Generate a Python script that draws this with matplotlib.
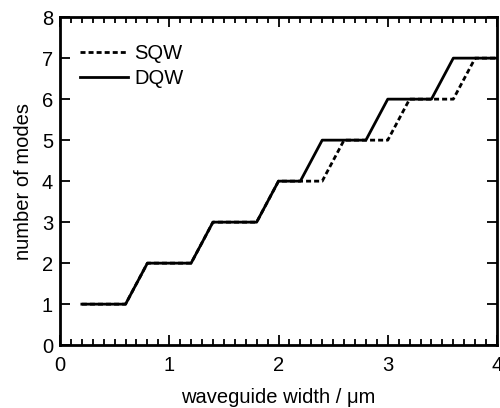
import matplotlib
matplotlib.use("Agg")
import matplotlib.pyplot as plt
from matplotlib.ticker import MultipleLocator

plt.rcParams['font.family'] = ['Liberation Sans', 'DejaVu Sans']

# Mode-count staircases (corner points of each curve)
sqw_width = [0.2, 0.6, 0.8, 1.2, 1.4, 1.8, 2.0, 2.4, 2.6, 3.0, 3.2, 3.6, 3.8, 4.0]
sqw_modes = [1, 1, 2, 2, 3, 3, 4, 4, 5, 5, 6, 6, 7, 7]
dqw_width = [0.2, 0.6, 0.8, 1.2, 1.4, 1.8, 2.0, 2.2, 2.4, 2.8, 3.0, 3.4, 3.6, 4.0]
dqw_modes = [1, 1, 2, 2, 3, 3, 4, 4, 5, 5, 6, 6, 7, 7]

FS = 14.5

fig = plt.figure(figsize=(5.0, 4.08), dpi=100)
ax = fig.add_axes([0.12, 0.154, 0.874, 0.804])

ax.plot(sqw_width, sqw_modes, color='black', lw=2.0, linestyle=(0, (1.8, 1.1)), label='SQW')
ax.plot(dqw_width, dqw_modes, color='black', lw=2.0, label='DQW')

ax.set_xlim(0, 4)
ax.set_ylim(0, 8)
ax.xaxis.set_major_locator(MultipleLocator(1))
ax.xaxis.set_minor_locator(MultipleLocator(0.1))
ax.yaxis.set_major_locator(MultipleLocator(1))

ax.tick_params(which='both', direction='in', top=True, right=True, width=1.3,
               labelsize=FS)
ax.tick_params(axis='x', pad=8)
ax.tick_params(axis='y', pad=5)
ax.tick_params(which='major', length=7)
ax.tick_params(which='minor', length=4)
for s in ax.spines.values():
    s.set_linewidth(2.0)

ax.set_xlabel('waveguide width / μm', fontsize=FS, labelpad=9.5)
ax.set_ylabel('number of modes', fontsize=FS, labelpad=6)

ax.legend(loc='upper left', frameon=False, fontsize=FS, handlelength=2.4,
          handletextpad=0.3, labelspacing=0.29, borderpad=0, borderaxespad=0,
          bbox_to_anchor=(0.046, 0.918))

fig.savefig('out.png', dpi=100)
